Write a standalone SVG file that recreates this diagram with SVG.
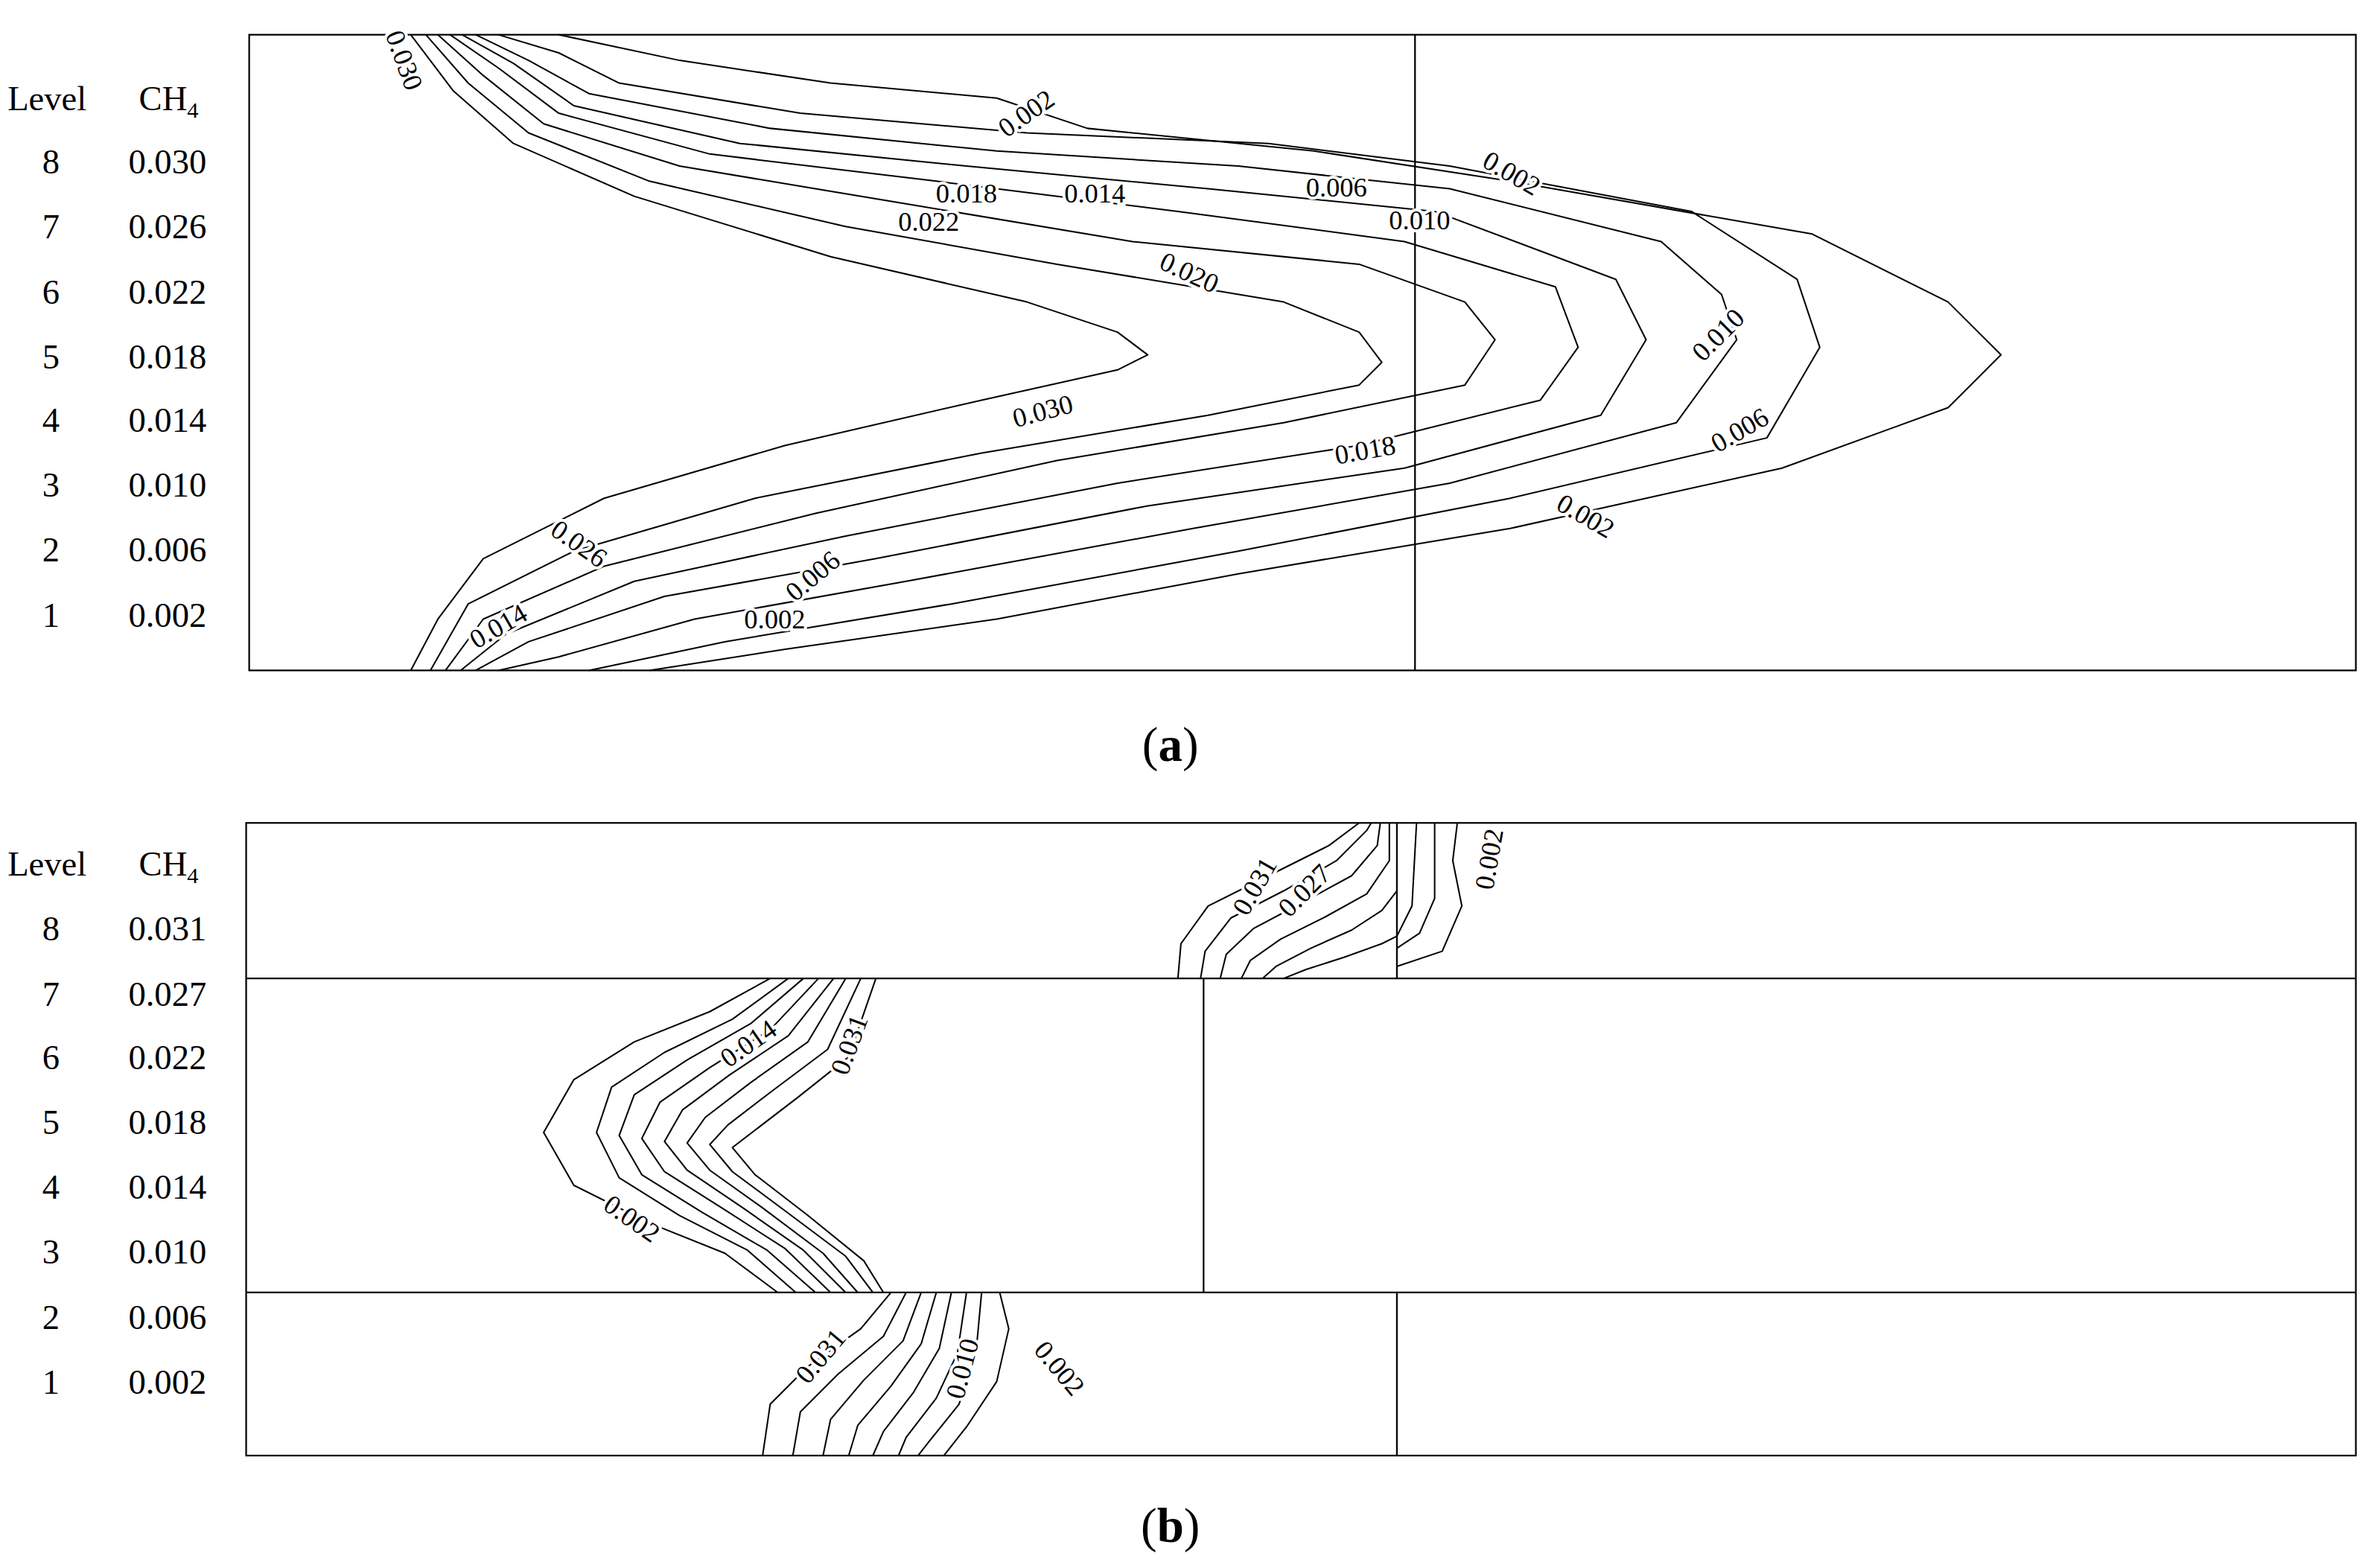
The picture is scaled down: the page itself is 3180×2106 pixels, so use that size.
<svg xmlns="http://www.w3.org/2000/svg" width="3180" height="2106" viewBox="0 0 3180 2106">
<style>
.f{fill:none;stroke:#000;stroke-width:1.1}
.c{fill:none;stroke:#000;stroke-width:1;stroke-linejoin:round}
.t{font-family:"Liberation Serif",serif;font-size:23px;fill:#000}
.l{font-family:"Liberation Serif",serif;font-size:18px;fill:#000;stroke:#fff;stroke-width:4;paint-order:stroke;text-anchor:middle}
.cap{font-family:"Liberation Serif",serif;font-size:32px;fill:#000;text-anchor:middle}
</style>
<rect width="3180" height="2106" fill="#fff"/>
<g transform="scale(2.028)">
<g id="panel-a">
<rect class="f" x="165" y="23" width="1395" height="421"/>
<line class="f" x1="937" y1="23" x2="937" y2="444"/>
<g id="legend-a" class="t">
<text x="5" y="73">Level</text><text x="92" y="73">CH<tspan font-size="15" dy="5">4</tspan></text>
<text x="28" y="115">8</text><text x="85" y="115">0.030</text>
<text x="28" y="158">7</text><text x="85" y="158">0.026</text>
<text x="28" y="201">6</text><text x="85" y="201">0.022</text>
<text x="28" y="244">5</text><text x="85" y="244">0.018</text>
<text x="28" y="286">4</text><text x="85" y="286">0.014</text>
<text x="28" y="329">3</text><text x="85" y="329">0.010</text>
<text x="28" y="372">2</text><text x="85" y="372">0.006</text>
<text x="28" y="415">1</text><text x="85" y="415">0.002</text>
</g>
<g id="connectors-a">
<polyline class="c" points="272,23 300,60 340,95 420,130 550,170 680,200 740,220 760,235 740,245 650,265 520,295 400,330 320,370 290,410 272,444"/>
<polyline class="c" points="282,23 310,55 350,88 430,120 560,150 700,175 850,200 900,220 915,240 900,255 800,275 650,300 500,330 380,365 310,400 285,444"/>
<polyline class="c" points="290,23 320,50 360,82 450,110 600,135 750,160 900,175 970,200 990,225 970,255 850,280 700,305 540,340 400,375 320,410 295,444"/>
<polyline class="c" points="298,23 330,45 370,75 470,102 620,120 780,140 930,160 1030,190 1045,230 1020,265 900,295 740,320 560,355 420,385 335,420 305,444"/>
<polyline class="c" points="306,23 340,42 380,70 490,95 640,110 800,125 950,140 1070,185 1090,225 1060,275 930,310 760,335 580,370 440,395 350,425 315,444"/>
<polyline class="c" points="315,23 350,40 390,62 510,85 660,100 820,110 960,125 1100,160 1140,195 1150,225 1110,280 960,320 790,350 600,385 460,410 370,435 330,444"/>
<polyline class="c" points="330,23 370,35 410,55 530,75 680,88 840,95 960,110 1120,140 1190,185 1205,230 1170,290 1000,330 820,365 630,400 480,425 390,444"/>
<polyline class="c" points="370,23 450,40 550,55 660,65 720,85 870,100 1000,120 1200,155 1290,200 1325,235 1290,270 1180,310 1000,350 820,380 660,410 520,430 430,444"/>
</g>
<g id="labels-a">
<text class="l" transform="translate(262,42) rotate(70)">0.030</text>
<text class="l" transform="translate(683,80) rotate(-35)">0.002</text>
<text class="l" transform="translate(640,134)">0.018</text>
<text class="l" transform="translate(725,134)">0.014</text>
<text class="l" transform="translate(615,153)">0.022</text>
<text class="l" transform="translate(885,130)">0.006</text>
<text class="l" transform="translate(998,120) rotate(30)">0.002</text>
<text class="l" transform="translate(940,152)">0.010</text>
<text class="l" transform="translate(785,186) rotate(25)">0.020</text>
<text class="l" transform="translate(1142,226) rotate(-45)">0.010</text>
<text class="l" transform="translate(692,278) rotate(-15)">0.030</text>
<text class="l" transform="translate(1155,290) rotate(-30)">0.006</text>
<text class="l" transform="translate(905,304) rotate(-10)">0.018</text>
<text class="l" transform="translate(1047,347) rotate(30)">0.002</text>
<text class="l" transform="translate(380,365) rotate(35)">0.026</text>
<text class="l" transform="translate(333,420) rotate(-30)">0.014</text>
<text class="l" transform="translate(542,386) rotate(-40)">0.006</text>
<text class="l" transform="translate(513,416)">0.002</text>
</g>
<text class="cap" x="775" y="504">(<tspan font-weight="bold">a</tspan>)</text>
</g>
<g id="panel-b">
<rect class="f" x="163" y="545" width="1397" height="419"/>
<line class="f" x1="163" y1="648" x2="1560" y2="648"/>
<line class="f" x1="163" y1="856" x2="1560" y2="856"/>
<line class="f" x1="925" y1="545" x2="925" y2="648"/>
<line class="f" x1="797" y1="648" x2="797" y2="856"/>
<line class="f" x1="925" y1="856" x2="925" y2="964"/>
<g id="legend-b" class="t">
<text x="5" y="580">Level</text><text x="92" y="580">CH<tspan font-size="15" dy="5">4</tspan></text>
<text x="28" y="623">8</text><text x="85" y="623">0.031</text>
<text x="28" y="666">7</text><text x="85" y="666">0.027</text>
<text x="28" y="708">6</text><text x="85" y="708">0.022</text>
<text x="28" y="751">5</text><text x="85" y="751">0.018</text>
<text x="28" y="794">4</text><text x="85" y="794">0.014</text>
<text x="28" y="837">3</text><text x="85" y="837">0.010</text>
<text x="28" y="880">2</text><text x="85" y="880">0.006</text>
<text x="28" y="923">1</text><text x="85" y="923">0.002</text>
</g>
<g id="connectors-b">
<polyline class="c" points="780,648 782,625 800,600 840,580 880,560 900,545"/>
<polyline class="c" points="795,648 798,630 815,608 850,590 885,570 905,550 908,545"/>
<polyline class="c" points="808,648 812,632 830,615 862,598 895,580 912,560 914,545"/>
<polyline class="c" points="822,648 828,636 848,622 878,607 905,592 920,570 920,545"/>
<polyline class="c" points="836,648 845,640 868,628 895,616 915,603 925,590"/>
<polyline class="c" points="850,648 865,642 890,634 915,625 925,620 935,600 938,545"/>
<polyline class="c" points="925,628 940,618 950,595 950,545"/>
<polyline class="c" points="925,640 955,630 968,600 962,570 965,545"/>
<polyline class="c" points="510,648 470,670 420,690 380,715 360,750 380,785 430,810 480,830 515,856"/>
<polyline class="c" points="522,648 485,675 440,697 405,720 395,750 410,780 450,805 495,828 527,856"/>
<polyline class="c" points="532,648 497,678 455,702 420,725 410,752 425,778 465,803 508,828 540,856"/>
<polyline class="c" points="542,648 510,682 470,707 437,730 425,754 440,776 478,800 520,827 550,856"/>
<polyline class="c" points="552,648 522,686 483,712 452,735 440,756 455,775 492,800 532,828 560,856"/>
<polyline class="c" points="560,648 535,690 497,717 467,740 455,757 470,775 505,800 545,830 568,856"/>
<polyline class="c" points="570,648 548,695 512,722 482,745 470,758 485,776 520,802 560,832 578,856"/>
<polyline class="c" points="580,648 562,700 528,727 498,750 485,760 500,778 535,805 572,835 585,856"/>
<polyline class="c" points="590,856 570,880 535,905 510,930 505,964"/>
<polyline class="c" points="600,856 585,885 555,910 530,935 525,964"/>
<polyline class="c" points="610,856 598,888 572,914 550,940 545,964"/>
<polyline class="c" points="620,856 610,890 590,918 568,944 562,964"/>
<polyline class="c" points="630,856 622,893 605,922 585,948 578,964"/>
<polyline class="c" points="640,856 634,896 620,926 600,952 595,964"/>
<polyline class="c" points="650,856 646,899 635,930 615,955 608,964"/>
<polyline class="c" points="662,856 668,880 660,915 640,945 625,964"/>
</g>
<g id="labels-b">
<text class="l" transform="translate(836,590) rotate(-60)">0.031</text>
<text class="l" transform="translate(868,594) rotate(-45)">0.027</text>
<text class="l" transform="translate(992,570) rotate(-80)">0.002</text>
<text class="l" transform="translate(499,696) rotate(-35)">0.014</text>
<text class="l" transform="translate(568,694) rotate(-70)">0.031</text>
<text class="l" transform="translate(415,812) rotate(35)">0.002</text>
<text class="l" transform="translate(548,902) rotate(-50)">0.031</text>
<text class="l" transform="translate(643,908) rotate(-75)">0.010</text>
<text class="l" transform="translate(697,910) rotate(50)">0.002</text>
</g>
<text class="cap" x="775" y="1021">(<tspan font-weight="bold">b</tspan>)</text>
</g>
</g>
</svg>
